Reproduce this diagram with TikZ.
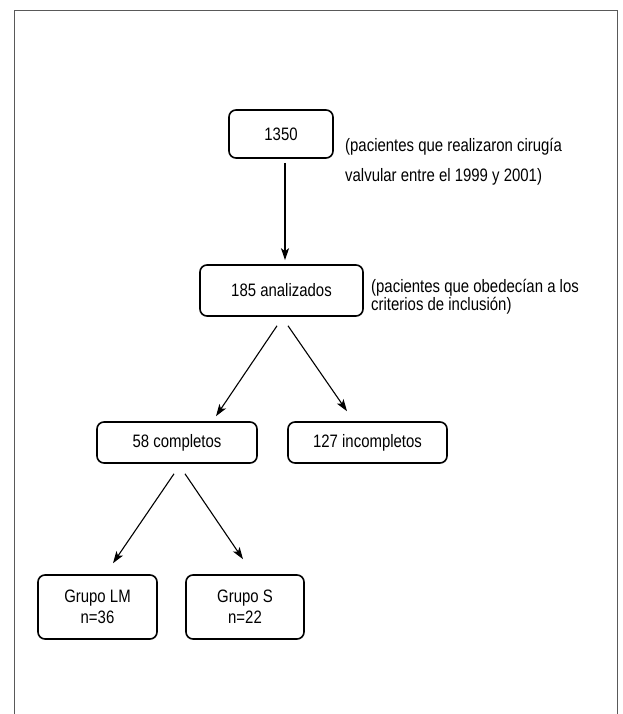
\documentclass[tikz,border=0pt]{standalone}
\usepackage{fontspec}
\setmainfont{Liberation Sans}[FakeStretch=0.83]
\usetikzlibrary{arrows.meta,calc}
\tikzset{
    caja/.style={draw, line width=1.6pt, rounded corners=7pt, align=center,
      font=\fontsize{18pt}{21pt}\selectfont},
    nota/.style={anchor=base west, align=left, inner sep=0pt},
    flecha/.style={-{Stealth[length=12pt,width=8pt,inset=3pt]}, line width=1.1pt},
  }
\begin{document}
\begin{tikzpicture}[x=1pt,y=-1pt]
    \useasboundingbox (0,0) rectangle (622,714);
    \draw[gray!70!black, line width=1.5pt] (14.5,714) -- (14.5,10.5) -- (617.5,10.5) -- (617.5,714);

    \node[caja, minimum width=104pt, minimum height=48pt] (total) at (281,134) {1350};
    \node[nota, font=\fontsize{18pt}{30pt}\selectfont] (notatotal) at (345,182)
      {(pacientes que realizaron cirugía\\valvular entre el 1999 y 2001)};

    %% \pause
    \node[caja, minimum width=163pt, minimum height=51pt] (anal) at (281.5,290.5) {185 analizados};
    \node[nota, font=\fontsize{18pt}{16pt}\selectfont] (notaanal) at (371,310)
      {(pacientes que obedecían a los\\criterios de inclusión)};
    \draw[flecha] ([xshift=4pt,yshift=-4pt]total.south) -- ([xshift=3.5pt,yshift=4pt]anal.north);

    %% \pause
    \node[caja, minimum width=160pt, minimum height=41pt] (comp) at (177,442.5) {58 completos};
    \node[caja, minimum width=159pt, minimum height=41pt] (incomp) at (367.5,442.5) {127 incompletos};
    \draw[flecha] ([xshift=-4.5pt,yshift=-9pt]anal.south) -- ([xshift=39pt,yshift=5pt]comp.north);
    \draw[flecha] ([xshift=6.5pt,yshift=-9pt]anal.south) -- ([xshift=-20.5pt,yshift=10pt]incomp.north);

    %% \pause
    \node[caja, minimum width=119pt, minimum height=64pt] (lm) at (97.5,607) {Grupo LM\\n=36};
    \node[caja, minimum width=118pt, minimum height=64pt] (gs) at (245,607) {Grupo S\\n=22};
    \draw[flecha] ([xshift=-3pt,yshift=-10pt]comp.south) -- ([xshift=15.5pt,yshift=11pt]lm.north);
    \draw[flecha] ([xshift=8pt,yshift=-10pt]comp.south) -- ([xshift=-2pt,yshift=15pt]gs.north);
\end{tikzpicture}
\end{document}
